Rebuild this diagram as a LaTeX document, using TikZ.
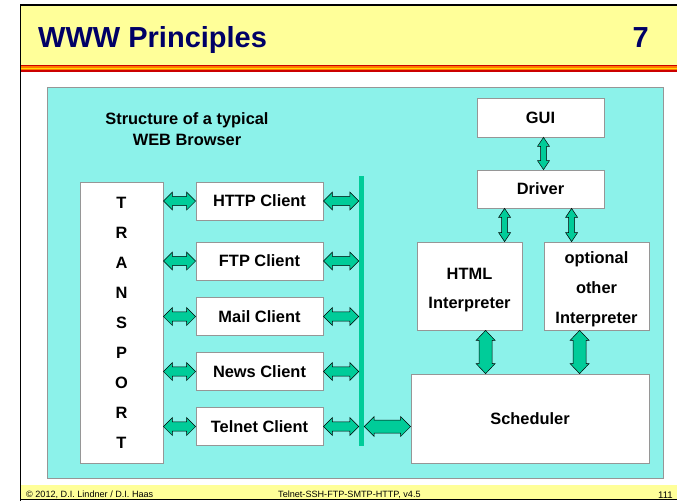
\documentclass[tikz,border=0pt]{standalone}
\usepackage{fontspec}
\setmainfont{Liberation Sans}
\usetikzlibrary{calc}
\definecolor{cyanbg}{RGB}{140,242,234}
\definecolor{arrowgreen}{RGB}{0,204,153}
\definecolor{titlenavy}{RGB}{0,0,102}
\definecolor{slideyellow}{RGB}{255,255,153}
\definecolor{boxgray}{RGB}{150,150,150}
\definecolor{stripered}{RGB}{204,0,0}
\definecolor{stripeorange}{RGB}{255,120,0}
\definecolor{stripeyellow}{RGB}{255,220,0}

% #1 start, #2 end, #3 head length, #4 head half width, #5 shaft half width
\newcommand\biarrow[5]{%
  \draw[fatarrow] let \p1=(#1), \p2=(#2), \n1={atan2(\y2-\y1,\x2-\x1)} in
   (\p1) -- ($(\p1)+(\n1:#3)+(\n1+90:#4)$) -- ($(\p1)+(\n1:#3)+(\n1+90:#5)$)
   -- ($(\p2)+(\n1+180:#3)+(\n1+90:#5)$) -- ($(\p2)+(\n1+180:#3)+(\n1+90:#4)$) -- (\p2)
   -- ($(\p2)+(\n1+180:#3)+(\n1-90:#4)$) -- ($(\p2)+(\n1+180:#3)+(\n1-90:#5)$)
   -- ($(\p1)+(\n1:#3)+(\n1-90:#5)$) -- ($(\p1)+(\n1:#3)+(\n1-90:#4)$) -- cycle;}

\tikzset{
  fatarrow/.style={fill=arrowgreen, draw=black, line width=0.5pt, line join=miter},
  box/.style={draw=boxgray, fill=white, line width=0.8pt, inner sep=0pt, align=center,
    font=\bfseries\fontsize{16.4}{29}\selectfont},
  label/.style={inner sep=0pt, align=center, font=\bfseries\fontsize{16.4}{21}\selectfont},
  foot/.style={inner sep=0pt, font=\fontsize{9.1}{11}\selectfont}
}

\begin{document}
\begin{tikzpicture}[x=1pt, y=-1pt]
\useasboundingbox (0,0) rectangle (677,501);
\fill[white] (0,0) rectangle (677,501);

% slide frame
\fill[slideyellow] (21,5) rectangle (677,65);
\fill[stripered] (21,64.5) rectangle (677,66.2);
\fill[stripeorange] (21,66.2) rectangle (677,67.6);
\fill[stripeyellow] (21,67.6) rectangle (677,69);
\fill[stripeorange] (21,69) rectangle (677,70.4);
\fill[stripered] (21,70.4) rectangle (677,72);
\fill[slideyellow] (21,485) rectangle (677,498.5);
\draw[line width=1.6pt] (20.5,501) -- (20.5,5) -- (677,5);
\draw[line width=1.6pt] (20.5,499.5) -- (677,499.5);

\node[anchor=base west, inner sep=0pt, text=titlenavy, font=\bfseries\fontsize{29}{30}\selectfont] (title) at (38,47) {WWW Principles};
\node[anchor=base east, inner sep=0pt, text=titlenavy, font=\bfseries\fontsize{29}{30}\selectfont] (num) at (649,47) {7};

\node[foot, anchor=base west] (copy) at (26,497) {\textcopyright{} 2012, D.I. Lindner / D.I. Haas};
\node[foot, anchor=base west] (course) at (278,497) {Telnet-SSH-FTP-SMTP-HTTP, v4.5};
\node[inner sep=0pt, anchor=base east, font=\fontsize{9.6}{11}\selectfont] (page) at (673,498) {111};

% panel
\draw[fill=cyanbg, draw=boxgray, line width=0.8pt] (47,87) rectangle (663,478);

\node[label] (heading) at (187,129.5) {Structure of a typical\\WEB Browser};

% left side
\node[box, minimum width=83pt, minimum height=281pt, font=\bfseries\fontsize{16.4}{30}\selectfont] (transport) at (121.5,322.5) {T\\R\\A\\N\\S\\P\\O\\R\\T};
\node[box, minimum width=127pt, minimum height=38pt] (http) at (259.5,201) {HTTP Client};
\node[box, minimum width=127pt, minimum height=38pt] (ftp) at (259.5,261) {FTP Client};
\node[box, minimum width=127pt, minimum height=38pt] (mail) at (259.5,316.5) {Mail Client};
\node[box, minimum width=127pt, minimum height=38pt] (news) at (259.5,371.5) {News Client};
\node[box, minimum width=127pt, minimum height=38pt] (telnet) at (259.5,426.5) {Telnet Client};
\node[fill=arrowgreen, inner sep=0pt, minimum width=5pt, minimum height=270pt] (bar) at (361.5,311) {};

% right side
\node[box, minimum width=127pt, minimum height=39pt] (gui) at (540.5,117.5) {GUI};
\node[box, minimum width=127pt, minimum height=38pt] (driver) at (540.5,189) {Driver};
\node[box, minimum width=105pt, minimum height=88pt, text height=49pt] (html) at (469.5,286) {HTML\\Interpreter};
\node[box, minimum width=105pt, minimum height=88pt, text height=78pt, font=\bfseries\fontsize{16.4}{30}\selectfont] (opt) at (596.5,286) {optional\\other\\Interpreter};
\node[box, minimum width=238pt, minimum height=89pt] (sched) at (530,418.5) {Scheduler};

% client arrows
\foreach \c in {http,ftp,mail,news,telnet}{
  \biarrow{transport.east |- \c.west}{\c.west}{9pt}{9pt}{4.6pt}
  \biarrow{\c.east}{bar.west |- \c.east}{9pt}{9pt}{4.6pt}
}
\biarrow{bar.east |- telnet.east}{sched.west |- telnet.east}{10pt}{10pt}{6.5pt}

% vertical arrows
\biarrow{$(gui.south)+(3,0)$}{$(driver.north)+(3,0)$}{9pt}{6pt}{3pt}
\biarrow{$(driver.south west)+(28,0)$}{$(html.north west)+(88,0)$}{9pt}{6pt}{3pt}
\biarrow{$(driver.south west)+(95,0)$}{$(opt.north west)+(28,0)$}{9pt}{6pt}{3pt}
\biarrow{$(html.south west)+(69,0)$}{$(sched.north west)+(75,0)$}{10pt}{9.5pt}{6.5pt}
\biarrow{$(opt.south west)+(36,0)$}{$(sched.north west)+(169,0)$}{10pt}{9.5pt}{6.5pt}
\end{tikzpicture}
\end{document}
